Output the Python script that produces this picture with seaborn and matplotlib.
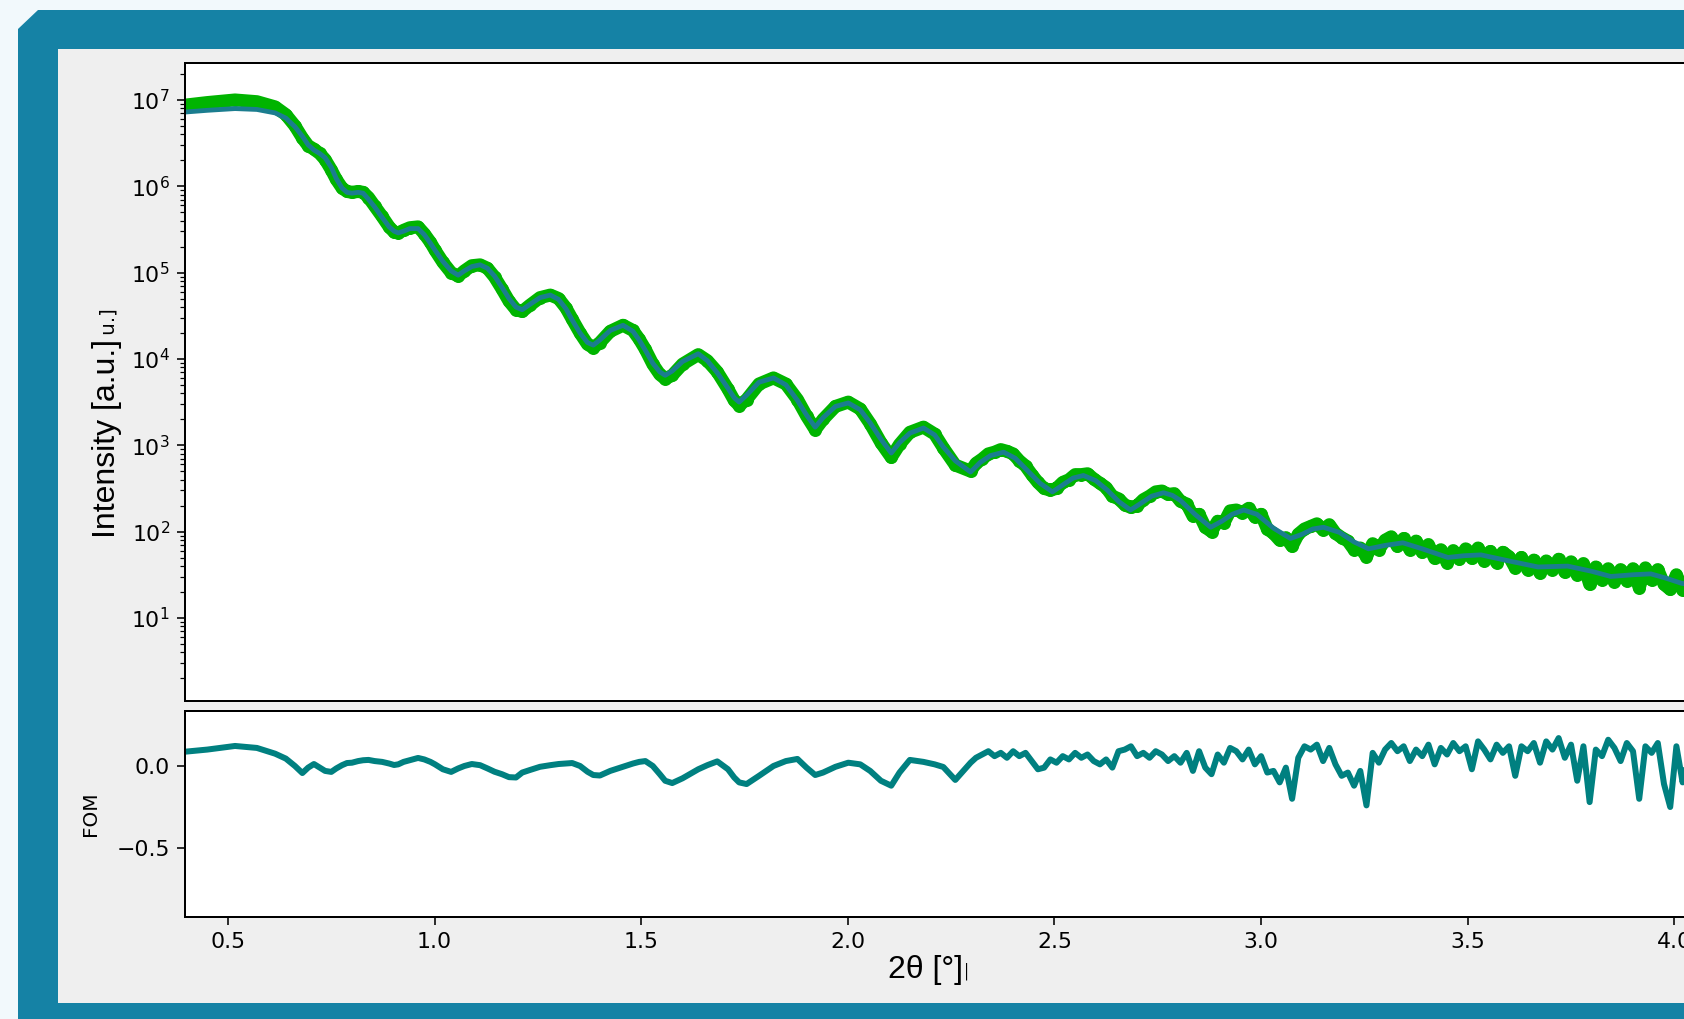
import numpy as np
import pandas as pd
import matplotlib
matplotlib.use("Agg")
import matplotlib.pyplot as plt
import seaborn as sns
from matplotlib.patches import Polygon, Rectangle

# --- data (2theta in degrees, log10 of intensity) ---
smooth_theta = [0.396, 0.45, 0.517, 0.57, 0.614, 0.64, 0.662, 0.68, 0.694, 0.708,
                0.722, 0.735, 0.75, 0.762, 0.776, 0.788, 0.80, 0.815, 0.827, 0.84,
                0.855, 0.873, 0.89, 0.902, 0.912, 0.925, 0.94, 0.96, 0.975, 0.99,
                1.001, 1.02, 1.04, 1.057, 1.072, 1.09, 1.11, 1.128, 1.145, 1.163,
                1.18, 1.197, 1.212, 1.23, 1.255, 1.28, 1.30, 1.318, 1.333, 1.352,
                1.37, 1.384, 1.40, 1.425, 1.456, 1.48, 1.495, 1.51, 1.528, 1.545,
                1.558, 1.575, 1.60, 1.638, 1.66, 1.684, 1.71, 1.725, 1.737, 1.755,
                1.785, 1.82, 1.85, 1.878, 1.90, 1.921, 1.94, 1.97, 2.001, 2.03,
                2.054, 2.08, 2.105, 2.125, 2.15, 2.183, 2.21, 2.231, 2.26, 2.297]

smooth_fit = [6.86, 6.88, 6.90, 6.89, 6.85, 6.79, 6.69, 6.58, 6.48, 6.42,
              6.38, 6.33, 6.22, 6.09, 5.98, 5.93, 5.92, 5.93, 5.92, 5.85,
              5.76, 5.64, 5.53, 5.48, 5.46, 5.48, 5.51, 5.51, 5.44, 5.34,
              5.26, 5.13, 5.02, 4.97, 5.02, 5.07, 5.09, 5.05, 4.96, 4.83,
              4.70, 4.60, 4.57, 4.63, 4.71, 4.74, 4.69, 4.58, 4.45, 4.30,
              4.19, 4.16, 4.22, 4.33, 4.39, 4.32, 4.22, 4.10, 3.95, 3.85,
              3.81, 3.86, 3.97, 4.06, 3.98, 3.84, 3.66, 3.55, 3.50, 3.58,
              3.73, 3.78, 3.70, 3.52, 3.35, 3.21, 3.32, 3.45, 3.49, 3.41,
              3.26, 3.07, 2.91, 3.03, 3.14, 3.20, 3.12, 2.98, 2.82, 2.69]

tail_theta = [2.32, 2.345, 2.377, 2.405, 2.434, 2.465, 2.495, 2.52, 2.545, 2.57,
              2.60, 2.628, 2.655, 2.684, 2.71, 2.735, 2.764, 2.785, 2.805, 2.84,
              2.878, 2.905, 2.93, 2.958, 2.99, 3.03, 3.071, 3.10, 3.125, 3.151,
              3.19, 3.225, 3.26, 3.30, 3.343, 3.39, 3.452, 3.49, 3.532, 3.60,
              3.67, 3.742, 3.80, 3.846, 3.90, 3.943, 3.98, 4.018, 4.08]

tail_fit = [2.80, 2.88, 2.92, 2.85, 2.71, 2.56, 2.46, 2.54, 2.62, 2.65,
            2.59, 2.48, 2.35, 2.25, 2.33, 2.41, 2.45, 2.42, 2.36, 2.20,
            2.05, 2.12, 2.20, 2.25, 2.20, 2.04, 1.92, 1.97, 2.03, 2.05,
            1.99, 1.88, 1.80, 1.84, 1.87, 1.80, 1.70, 1.72, 1.73, 1.66,
            1.59, 1.60, 1.54, 1.48, 1.50, 1.51, 1.46, 1.40, 1.36]

smooth_meas = [6.94, 6.97, 7.00, 6.98, 6.92, 6.83, 6.70, 6.56, 6.47, 6.43,
               6.38, 6.31, 6.19, 6.08, 5.98, 5.94, 5.93, 5.94, 5.93, 5.87,
               5.77, 5.65, 5.53, 5.47, 5.46, 5.49, 5.52, 5.53, 5.45, 5.35,
               5.26, 5.12, 5.00, 4.96, 5.02, 5.08, 5.09, 5.05, 4.95, 4.81,
               4.67, 4.57, 4.55, 4.62, 4.71, 4.74, 4.70, 4.59, 4.46, 4.30,
               4.17, 4.13, 4.19, 4.32, 4.39, 4.33, 4.23, 4.11, 3.94, 3.82,
               3.77, 3.81, 3.94, 4.05, 3.98, 3.85, 3.65, 3.52, 3.46, 3.53,
               3.71, 3.78, 3.71, 3.53, 3.34, 3.18, 3.30, 3.45, 3.50, 3.42,
               3.25, 3.03, 2.86, 3.01, 3.15, 3.21, 3.13, 2.97, 2.77, 2.70]

smooth_fom = [0.087, 0.10, 0.122, 0.11, 0.075, 0.045, 0.0, -0.043, -0.01, 0.012,
              -0.01, -0.03, -0.036, -0.015, 0.005, 0.018, 0.02, 0.03, 0.035, 0.037,
              0.03, 0.025, 0.015, 0.006, 0.01, 0.025, 0.035, 0.049, 0.04, 0.025,
              0.01, -0.02, -0.036, -0.015, 0.0, 0.012, 0.005, -0.015, -0.035, -0.05,
              -0.068, -0.07, -0.04, -0.025, -0.005, 0.005, 0.012, 0.015, 0.018, 0.0,
              -0.035, -0.055, -0.058, -0.03, -0.005, 0.015, 0.025, 0.03, 0.0, -0.05,
              -0.09, -0.104, -0.075, -0.02, 0.005, 0.028, -0.02, -0.07, -0.10, -0.11,
              -0.06, 0.0, 0.03, 0.043, -0.01, -0.055, -0.04, -0.005, 0.02, 0.01,
              -0.03, -0.09, -0.12, -0.04, 0.037, 0.025, 0.01, -0.006, -0.085, 0.02]

noisy_theta = [2.310, 2.325, 2.340, 2.355, 2.370, 2.385, 2.400, 2.415, 2.430, 2.445,
               2.460, 2.475, 2.490, 2.505, 2.520, 2.535, 2.550, 2.565, 2.580, 2.595,
               2.610, 2.625, 2.640, 2.655, 2.670, 2.685, 2.700, 2.715, 2.730, 2.745,
               2.760, 2.775, 2.790, 2.805, 2.820, 2.835, 2.850, 2.865, 2.880, 2.895,
               2.910, 2.925, 2.940, 2.955, 2.970, 2.985, 3.000, 3.015, 3.030, 3.045,
               3.060, 3.075, 3.090, 3.105, 3.120, 3.135, 3.150, 3.165, 3.180, 3.195,
               3.210, 3.225, 3.240, 3.255, 3.270, 3.285, 3.300, 3.315, 3.330, 3.345,
               3.360, 3.375, 3.390, 3.405, 3.420, 3.435, 3.450, 3.465, 3.480, 3.495,
               3.510, 3.525, 3.540, 3.555, 3.570, 3.585, 3.600, 3.615, 3.630, 3.645,
               3.660, 3.675, 3.690, 3.705, 3.720, 3.735, 3.750, 3.765, 3.780, 3.795,
               3.810, 3.825, 3.840, 3.855, 3.870, 3.885, 3.900, 3.915, 3.930, 3.945,
               3.960, 3.975, 3.990, 4.005, 4.020, 4.035, 4.050, 4.065, 4.080, 4.095]

noisy_meas = [2.79, 2.84, 2.90, 2.92, 2.95, 2.93, 2.90, 2.82, 2.76, 2.66,
              2.57, 2.50, 2.48, 2.50, 2.57, 2.60, 2.66, 2.66, 2.67, 2.61,
              2.56, 2.51, 2.41, 2.38, 2.31, 2.28, 2.30, 2.37, 2.41, 2.46,
              2.47, 2.43, 2.44, 2.35, 2.32, 2.18, 2.20, 2.05, 2.00, 2.12,
              2.10, 2.24, 2.25, 2.22, 2.27, 2.17, 2.20, 2.03, 1.98, 1.90,
              1.93, 1.83, 1.97, 2.03, 2.06, 2.09, 2.02, 2.08, 1.98, 1.93,
              1.89, 1.79, 1.81, 1.71, 1.86, 1.79, 1.90, 1.94, 1.83, 1.92,
              1.79, 1.89, 1.76, 1.85, 1.69, 1.79, 1.64, 1.78, 1.68, 1.80,
              1.69, 1.81, 1.66, 1.77, 1.64, 1.76, 1.71, 1.58, 1.70, 1.56,
              1.67, 1.52, 1.66, 1.56, 1.68, 1.53, 1.65, 1.50, 1.63, 1.39,
              1.59, 1.44, 1.57, 1.42, 1.56, 1.43, 1.57, 1.35, 1.58, 1.44,
              1.56, 1.39, 1.33, 1.50, 1.32, 1.46, 1.31, 1.44, 1.28, 1.42]

noisy_fom = [0.05, 0.07, 0.09, 0.06, 0.08, 0.05, 0.09, 0.06, 0.08, 0.03,
             -0.02, -0.01, 0.04, 0.02, 0.06, 0.04, 0.08, 0.05, 0.07, 0.03,
             0.01, 0.04, -0.01, 0.09, 0.10, 0.12, 0.06, 0.08, 0.05, 0.09,
             0.07, 0.03, 0.06, 0.02, 0.08, -0.03, 0.09, -0.01, -0.05, 0.07,
             0.02, 0.11, 0.09, 0.04, 0.10, 0.01, 0.06, -0.04, -0.03, -0.10,
             -0.01, -0.20, 0.05, 0.12, 0.10, 0.13, 0.03, 0.11, 0.01, -0.06,
             -0.04, -0.12, -0.03, -0.24, 0.08, 0.02, 0.10, 0.14, 0.09, 0.12,
             0.03, 0.10, 0.06, 0.13, 0.01, 0.11, 0.07, 0.14, 0.09, 0.12,
             -0.02, 0.15, 0.10, 0.04, 0.13, 0.08, 0.12, -0.06, 0.12, 0.09,
             0.14, 0.02, 0.15, 0.10, 0.17, 0.05, 0.13, -0.09, 0.12, -0.22,
             0.10, 0.06, 0.16, 0.11, 0.03, 0.14, 0.09, -0.20, 0.12, 0.08,
             0.14, -0.11, -0.25, 0.12, -0.10, 0.10, 0.05, 0.11, -0.12, 0.09]

x_ticks = [0.5, 1.0, 1.5, 2.0, 2.5, 3.0, 3.5, 4.0]
fom_ticks = [-0.5, 0.0]

# tables for seaborn
meas_df = pd.DataFrame({"theta": smooth_theta + noisy_theta,
                        "I": 10 ** np.array(smooth_meas + noisy_meas),
                        "fom": smooth_fom + noisy_fom})
fit_df = pd.DataFrame({"theta": smooth_theta + tail_theta,
                       "I": 10 ** np.array(smooth_fit + tail_fit)})

W, H, DPI = 1684, 1019, 144

sns.set_style("ticks")
plt.rcParams["font.family"] = ["DejaVu Sans"]
plt.rcParams["axes.linewidth"] = 1.0
plt.rcParams["axes.edgecolor"] = "black"
plt.rcParams["xtick.color"] = "black"
plt.rcParams["ytick.color"] = "black"
plt.rcParams["text.color"] = "black"
plt.rcParams["axes.labelcolor"] = "black"
plt.rcParams["xtick.major.size"] = 4
plt.rcParams["ytick.major.size"] = 4
plt.rcParams["ytick.minor.size"] = 2.3
plt.rcParams["xtick.labelsize"] = 11
plt.rcParams["ytick.labelsize"] = 11


def fx(px):
    return px / W


def fy(py):
    return 1 - py / H


fig = plt.figure(figsize=(W / DPI, H / DPI), dpi=DPI, facecolor="#f2f9fc")

# window frame of the screenshot
fig.add_artist(Polygon([(fx(18), fy(29)), (fx(38), fy(10)), (fx(W), fy(10)),
                        (fx(W), fy(H)), (fx(18), fy(H))], closed=True,
                       transform=fig.transFigure, facecolor="#1582a5",
                       edgecolor="none", zorder=-10))
fig.add_artist(Rectangle((fx(58), fy(1003)), fx(W) - fx(58), fy(49) - fy(1003),
                         transform=fig.transFigure, facecolor="#efefef",
                         edgecolor="none", zorder=-9))

ax1 = fig.add_axes([fx(185), fy(701), (1695 - 185) / W, (701 - 63) / H])
ax2 = fig.add_axes([fx(185), fy(917), (1695 - 185) / W, (917 - 711) / H])

# reflectivity: measured data + fit
sns.lineplot(data=meas_df, x="theta", y="I", ax=ax1, color="#00b400", lw=6.5,
             marker="o", markersize=6.5, markeredgewidth=0, errorbar=None)
sns.lineplot(data=fit_df, x="theta", y="I", ax=ax1, color="#1b7d8f", lw=2.4,
             errorbar=None)
ax1.set_yscale("log")
ax1.set_xlim(0.396, 4.05)
ax1.set_ylim(1.09, 2.68e7)
ax1.tick_params(axis="x", bottom=False, labelbottom=False)
ax1.set_xlabel("")
ax1.set_ylabel("Intensity [a.u.]", fontsize=10)
ax1.yaxis.set_label_coords(-0.0437, 0.5)

# figure of merit
sns.lineplot(data=meas_df, x="theta", y="fom", ax=ax2, color="#008080", lw=3.0,
             errorbar=None)
ax2.set_xlim(0.396, 4.05)
ax2.set_ylim(-0.92, 0.335)
ax2.set_xticks(x_ticks)
ax2.set_yticks(fom_ticks)
ax2.set_ylabel("FOM", fontsize=10)
ax2.yaxis.set_label_coords(-0.056, 0.5)
ax2.set_xlabel("2θ [°]", fontsize=10)
ax2.xaxis.set_label_coords(0.5, -0.223)

# the larger labels drawn over the default ones
box = dict(boxstyle="square,pad=0.12", facecolor="#efefef", edgecolor="none")
fig.text(fx(107), fy(439), "Intensity [a.u.]", rotation=90, ha="center",
         va="center", fontsize=16, family="Liberation Sans", bbox=box)
fig.text(fx(925), fy(970), "2θ [°]", ha="center", va="center", fontsize=16,
         family="Liberation Sans", bbox=box)

fig.savefig("out.png", dpi=DPI, facecolor=fig.get_facecolor())
